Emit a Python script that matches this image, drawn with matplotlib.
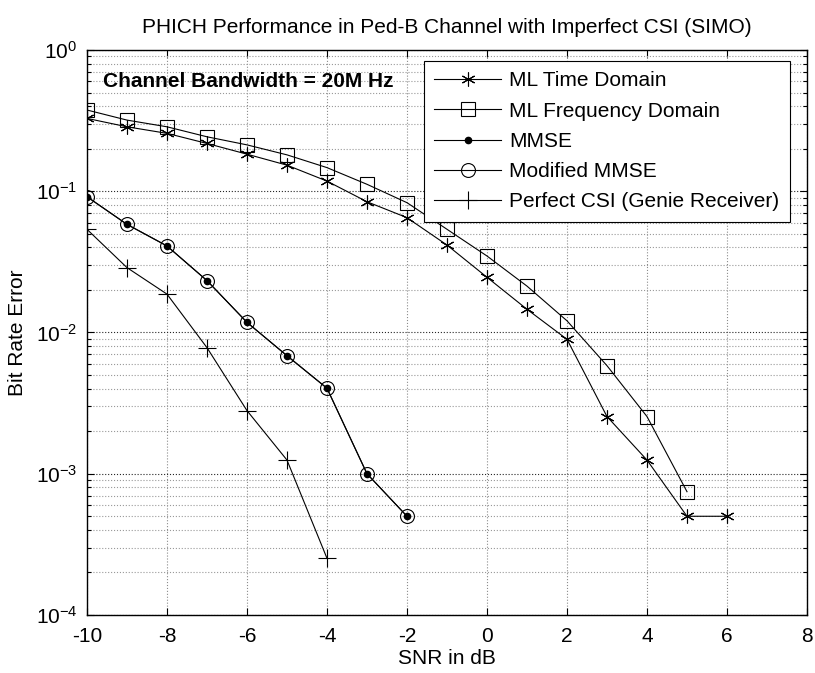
import matplotlib
matplotlib.use("Agg")
import matplotlib.pyplot as plt
from matplotlib.ticker import LogLocator, FixedLocator, LogFormatterMathtext, NullFormatter

plt.rcParams["font.family"] = ["Liberation Sans", "DejaVu Sans"]
plt.rcParams["mathtext.default"] = "regular"
plt.rcParams["axes.unicode_minus"] = False

snr_ml = [-10, -9, -8, -7, -6, -5, -4, -3, -2, -1, 0, 1, 2, 3, 4, 5, 6]
ber_ml_time = [0.328, 0.286, 0.257, 0.218, 0.183, 0.153, 0.118, 0.0843, 0.065,
               0.0416, 0.0246, 0.0146, 0.00895, 0.00254, 0.00125, 0.0005, 0.0005]

snr_ml_freq = [-10, -9, -8, -7, -6, -5, -4, -3, -2, -1, 0, 1, 2, 3, 4, 5]
ber_ml_freq = [0.376, 0.319, 0.286, 0.243, 0.213, 0.181, 0.147, 0.112, 0.083,
               0.0538, 0.0348, 0.0213, 0.0121, 0.00582, 0.00254, 0.000746]

snr_mmse = [-10, -9, -8, -7, -6, -5, -4, -3, -2]
ber_mmse = [0.0915, 0.0583, 0.041, 0.0233, 0.0118, 0.00685, 0.00403, 0.001, 0.0005]
ber_mod_mmse = [0.0915, 0.0583, 0.041, 0.0233, 0.0118, 0.00685, 0.00403, 0.001, 0.0005]

snr_perfect = [-10, -9, -8, -7, -6, -5, -4]
ber_perfect = [0.0538, 0.0288, 0.0187, 0.00781, 0.0028, 0.00125, 0.000252]

fig = plt.figure(figsize=(8.15, 6.73), dpi=100)
ax = fig.add_axes([0.1067, 0.0862, 0.8835, 0.8395])

star = (6, 2, 0)
ax.plot(snr_ml, ber_ml_time, color="black", lw=0.8, marker=star, ms=10,
        mew=0.8, label="ML Time Domain")
ax.plot(snr_ml_freq, ber_ml_freq, color="black", lw=0.8, marker="s", ms=10,
        mfc="none", mew=0.8, label="ML Frequency Domain")
ax.plot(snr_mmse, ber_mmse, color="black", lw=0.8, marker=".", ms=9,
        label="MMSE")
ax.plot(snr_mmse, ber_mod_mmse, color="black", lw=0.8, marker="o", ms=10,
        mfc="none", mew=0.8, label="Modified MMSE")
ax.plot(snr_perfect, ber_perfect, color="black", lw=0.8, marker="+", ms=13,
        mew=0.8, label="Perfect CSI (Genie Receiver)")

ax.set_yscale("log")
ax.set_xlim(-10, 8)
ax.set_ylim(1e-4, 1)
ax.xaxis.set_major_locator(FixedLocator(range(-10, 9, 2)))
ax.yaxis.set_major_locator(LogLocator(base=10, numticks=10))
ax.yaxis.set_minor_locator(LogLocator(base=10, subs=range(2, 10), numticks=10))
ax.yaxis.set_major_formatter(LogFormatterMathtext())
ax.yaxis.set_minor_formatter(NullFormatter())

ax.grid(True, which="major", axis="y", color="0.15", ls=":", lw=0.8)
ax.grid(True, which="minor", axis="y", color="0.6", ls=":", lw=0.8)
ax.grid(True, which="major", axis="x", color="0.55", ls=":", lw=0.8)

ax.tick_params(which="both", direction="in", top=True, right=True,
               labelsize=15, width=0.8)
ax.tick_params(axis="x", pad=9)
ax.tick_params(axis="y", pad=7)
ax.tick_params(which="major", length=5)
ax.tick_params(which="minor", length=3)
for s in ax.spines.values():
    s.set_linewidth(1.0)

ax.set_title("PHICH Performance in Ped-B Channel with Imperfect CSI (SIMO)",
             fontsize=15, pad=12)
ax.set_xlabel("SNR in dB", fontsize=15, labelpad=2)
ax.set_ylabel("Bit Rate Error", fontsize=15, labelpad=6)

ax.text(0.022, 0.944, "Channel Bandwidth = 20M Hz", transform=ax.transAxes,
        fontsize=15, fontweight="bold", va="center", ha="left")

leg = ax.legend(loc="upper right", bbox_to_anchor=(0.976, 0.9805),
                borderaxespad=0, fontsize=15, numpoints=1, handlelength=3.2,
                handletextpad=0.4, labelspacing=0.54, borderpad=0.5,
                fancybox=False, framealpha=1, edgecolor="black")
leg.get_frame().set_linewidth(0.8)

fig.savefig("out.png", dpi=100)
